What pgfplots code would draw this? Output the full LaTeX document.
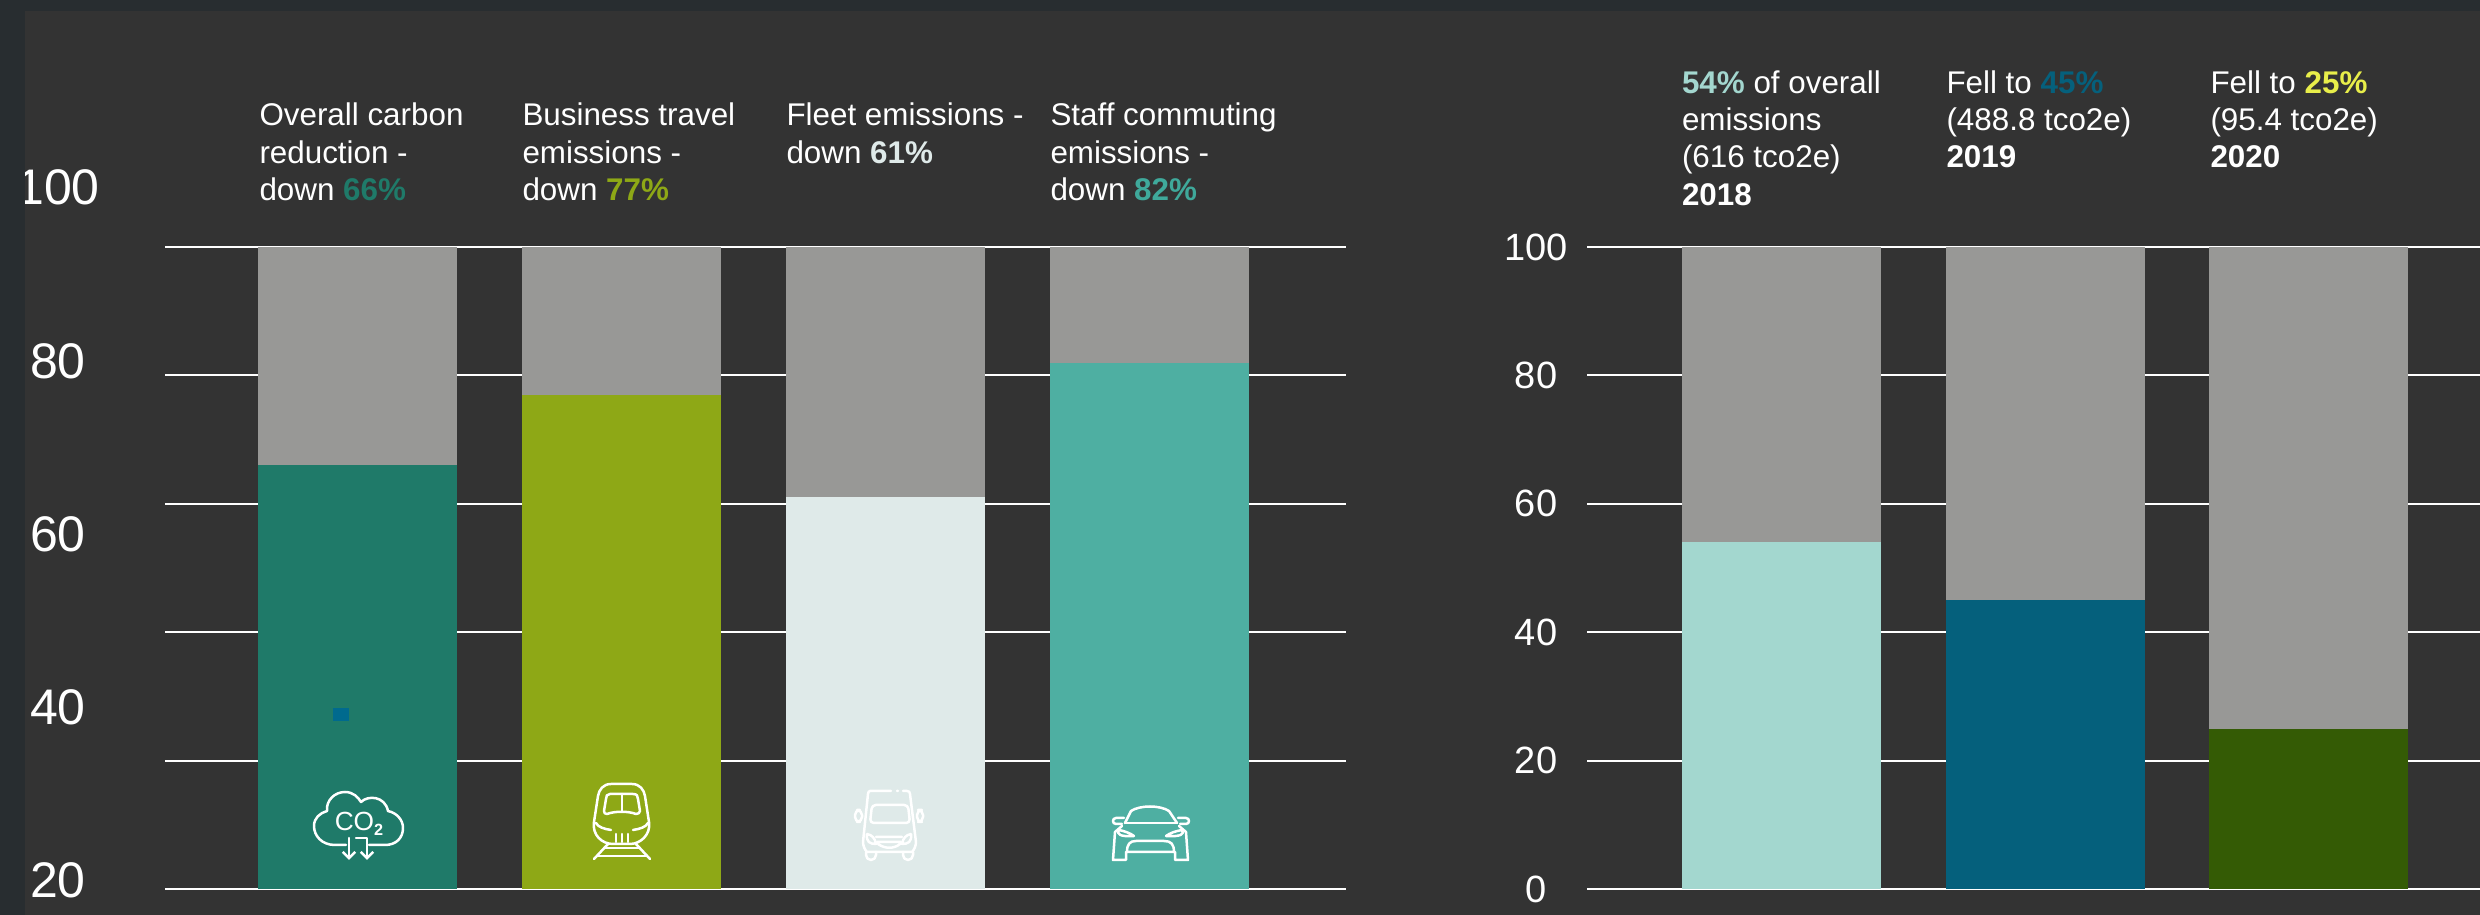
\documentclass[border=0pt]{standalone}
\usepackage{fontspec}
\setmainfont{Liberation Sans}
\usepackage{pgfplots}
\usepackage{pgfplotstable}
\pgfplotsset{compat=1.18}
\usetikzlibrary{arrows.meta}

\definecolor{frameband}{HTML}{282D30}
\definecolor{panel}{HTML}{333333}
\definecolor{restgrey}{HTML}{989896}
\definecolor{cOverall}{HTML}{1F7A69}
\definecolor{cBusiness}{HTML}{8EA816}
\definecolor{cFleet}{HTML}{DFEAE9}
\definecolor{cStaff}{HTML}{4EAFA2}
\definecolor{tStaff}{HTML}{3FA99B}
\definecolor{cY18}{HTML}{A3D7CF}
\definecolor{cY19}{HTML}{05607C}
\definecolor{cY20}{HTML}{345B05}
\definecolor{tY20}{HTML}{E8EE4A}
\definecolor{dotblue}{HTML}{006A8E}

% x  reduced  remainder
\pgfplotstableread{
x low rest
0 66 34
}\tOverall
\pgfplotstableread{
x low rest
1 77 23
}\tBusiness
\pgfplotstableread{
x low rest
2 61 39
}\tFleet
\pgfplotstableread{
x low rest
3 82 18
}\tStaff
\pgfplotstableread{
x low rest
0 54 46
}\tYa
\pgfplotstableread{
x low rest
1 45 55
}\tYb
\pgfplotstableread{
x low rest
2 25 75
}\tYc

\newcommand{\capfont}{\fontsize{12.55}{15}\selectfont}
\newcommand{\capline}[3]{\node[anchor=base west,inner sep=0pt,text=white,font=\capfont] at (#1,#2) {#3};}

\pgfplotsset{
  barpanel/.style={
    scale only axis,
    anchor=south west,
    height=256.8pt,
    ymin=0, ymax=100,
    ytick={0,20,40,60,80,100},
    xtick=\empty,
    yticklabels={},
    ymajorgrids,
    grid style={white,line width=0.8pt},
    axis line style={draw=none},
    major tick length=0pt,
    ybar stacked,
    bar width=79.6pt,
  },
  numfont/.style={/pgf/number format/assume math mode=true},
}

\begin{document}
\begin{tikzpicture}
\useasboundingbox (0,0) rectangle (992pt,-366pt);
\fill[panel] (0,0) rectangle (992pt,-366pt);

% reductions by source
\begin{axis}[barpanel, at={(66pt,-355.6pt)}, width=472.4pt, xmin=-0.729, xmax=3.744]
  \addplot[fill=cOverall,draw=none] table[x=x,y=low]{\tOverall};
  \addplot[fill=restgrey,draw=none] table[x=x,y=rest]{\tOverall};
\end{axis}
\begin{axis}[barpanel, at={(66pt,-355.6pt)}, width=472.4pt, xmin=-0.729, xmax=3.744, ymajorgrids=false]
  \addplot[fill=cBusiness,draw=none] table[x=x,y=low]{\tBusiness};
  \addplot[fill=restgrey,draw=none] table[x=x,y=rest]{\tBusiness};
\end{axis}
\begin{axis}[barpanel, at={(66pt,-355.6pt)}, width=472.4pt, xmin=-0.729, xmax=3.744, ymajorgrids=false]
  \addplot[fill=cFleet,draw=none] table[x=x,y=low]{\tFleet};
  \addplot[fill=restgrey,draw=none] table[x=x,y=rest]{\tFleet};
\end{axis}
\begin{axis}[barpanel, at={(66pt,-355.6pt)}, width=472.4pt, xmin=-0.729, xmax=3.744, ymajorgrids=false]
  \addplot[fill=cStaff,draw=none] table[x=x,y=low]{\tStaff};
  \addplot[fill=restgrey,draw=none] table[x=x,y=rest]{\tStaff};
\end{axis}

% scale printed beside the left panel
\begin{axis}[
  scale only axis, anchor=south west, at={(66pt,-355.2pt)},
  width=472.4pt, height=295.2pt,
  xmin=0, xmax=1, ymin=18.85, ymax=104.06,
  xtick=\empty, ytick={20,40,60,80,100},
  axis line style={draw=none}, major tick length=0pt,
  numfont,
  yticklabel style={anchor=center,xshift=-42.8pt,yshift=-1pt,text=white,font=\fontsize{20}{24}\selectfont},
]
\end{axis}

% share of overall emissions by year
\begin{axis}[barpanel, at={(634.8pt,-355.6pt)}, width=357.2pt, xmin=-0.735, xmax=2.648,
  numfont, yticklabels={0,20,40,60,80,100},
  yticklabel style={anchor=center,xshift=-20.4pt,text=white,font=\fontsize{15.2}{18}\selectfont}]
  \addplot[fill=cY18,draw=none] table[x=x,y=low]{\tYa};
  \addplot[fill=restgrey,draw=none] table[x=x,y=rest]{\tYa};
\end{axis}
\begin{axis}[barpanel, at={(634.8pt,-355.6pt)}, width=357.2pt, xmin=-0.735, xmax=2.648, ymajorgrids=false]
  \addplot[fill=cY19,draw=none] table[x=x,y=low]{\tYb};
  \addplot[fill=restgrey,draw=none] table[x=x,y=rest]{\tYb};
\end{axis}
\begin{axis}[barpanel, at={(634.8pt,-355.6pt)}, width=357.2pt, xmin=-0.735, xmax=2.648, ymajorgrids=false]
  \addplot[fill=cY20,draw=none] table[x=x,y=low]{\tYc};
  \addplot[fill=restgrey,draw=none] table[x=x,y=rest]{\tYc};
\end{axis}

% frame bands sit over the panel edge
\fill[frameband] (0,0) rectangle (992pt,-4.4pt);
\fill[frameband] (0,0) rectangle (10pt,-366pt);

\begin{scope}[x=0.4pt,y=-0.4pt]
  % captions of the left panel
  \capline{259}{126}{Overall carbon}
  \capline{259}{163.5}{reduction -}
  \capline{259}{201}{down {\bfseries\color{cOverall}66\%}}
  \capline{522}{126}{Business travel}
  \capline{522}{163.5}{emissions -}
  \capline{522}{201}{down {\bfseries\color{cBusiness}77\%}}
  \capline{786}{126}{Fleet emissions -}
  \capline{786}{163.5}{down {\bfseries\color{cFleet}61\%}}
  \capline{1050}{126}{Staff commuting}
  \capline{1050}{163.5}{emissions -}
  \capline{1050}{201}{down {\bfseries\color{tStaff}82\%}}
  % captions of the right panel
  \capline{1681.5}{94}{{\bfseries\color{cY18}54\%} of overall}
  \capline{1681.5}{131}{emissions}
  \capline{1681.5}{168}{(616 tco2e)}
  \capline{1681.5}{206}{\bfseries 2018}
  \capline{1946}{94}{Fell to {\bfseries\color{cY19}45\%}}
  \capline{1946}{131}{(488.8 tco2e)}
  \capline{1946}{168}{\bfseries 2019}
  \capline{2210}{94}{Fell to {\bfseries\color{tY20}25\%}}
  \capline{2210}{131}{(95.4 tco2e)}
  \capline{2210}{168}{\bfseries 2020}

  % small square on the first bar
  \fill[dotblue] (333,708) rectangle (349,721);

  \begin{scope}[draw=white,line width=1pt,line cap=round,line join=round]
    % cloud with CO2
    \draw (346,845) -- (335,845) .. controls (322,845) and (314,836) .. (314,826)
      .. controls (314,818) and (320,813) .. (327,811)
      .. controls (326,800) and (335,792) .. (345,792)
      .. controls (353,792) and (358,797) .. (361,802)
      .. controls (368,795) and (385,796) .. (388,811)
      .. controls (397,813) and (403,820) .. (403,828)
      .. controls (403,838) and (396,845) .. (385,845) -- (369,845);
    \node[text=white,inner sep=0pt,font=\fontsize{10.5}{12}\selectfont] at (359,824) {CO\raisebox{-2pt}{\fontsize{6.5}{7}\selectfont\bfseries 2}};
    \draw[-{Straight Barb[length=2.5pt,width=5pt]}] (349,838) -- (349,860);
    \draw[-{Straight Barb[length=2.5pt,width=5pt]}] (356,838) -- (367,838) -- (367,860);
    % train
    \draw (611,784) -- (632,784) .. controls (640,784) and (644,790) .. (645,796)
      -- (649,822) .. controls (651,835) and (640,844) .. (630,844) -- (613,844)
      .. controls (602,844) and (592,835) .. (594,822) -- (598,796)
      .. controls (599,790) and (603,784) .. (611,784) -- cycle;
    \draw (610,794) -- (633,794) .. controls (637,794) and (638,796) .. (638,799)
      -- (640,811) .. controls (640,813) and (638,814) .. (636,814)
      .. controls (628,811) and (615,811) .. (607,814)
      .. controls (605,814) and (604,813) .. (604,811) -- (606,799)
      .. controls (606,796) and (607,794) .. (610,794) -- cycle;
    \draw (622,794) -- (622,811);
    \draw (596,823) .. controls (598,827) and (604,829) .. (611,830);
    \draw (648,823) .. controls (646,827) and (640,829) .. (633,830);
    \draw (616,834) -- (616,842) (622,834) -- (622,842) (628,834) -- (628,842);
    \draw (608,844) -- (594,859) (636,844) -- (650,859);
    \draw (604,848) -- (640,848) (598,856) -- (646,856);
    % van
    \draw (870,791) -- (891,791) (897,791) -- (898,791) (903,791) -- (907,791)
      .. controls (909,791) and (910,792) .. (910,794) -- (916,842)
      .. controls (916,846) and (914,850) .. (912,852) -- (867,852)
      .. controls (865,850) and (863,846) .. (863,842) -- (868,794)
      .. controls (868,792) and (869,791) .. (870,791);
    \draw[rounded corners=1.5pt] (872,805) -- (908,805) -- (910,823) -- (870,823) -- cycle;
    \draw[rounded corners=2pt] (855,810) rectangle (862,822);
    \draw[rounded corners=2pt] (917,810) rectangle (923,822);
    \draw (867,834) .. controls (872,835) and (875,838) .. (876,844) .. controls (870,844) and (866,842) .. (867,834);
    \draw (911,834) .. controls (906,835) and (903,838) .. (902,844) .. controls (908,844) and (912,842) .. (911,834);
    \draw (876,837) -- (902,837) (877,842) -- (901,842) (878,844) .. controls (885,849) and (894,849) .. (900,844);
    \draw[rounded corners=2pt] (866,852) -- (866,860) -- (876,860) -- (876,852);
    \draw[rounded corners=2pt] (903,852) -- (903,860) -- (913,860) -- (913,852);
    % car
    \draw (1125,823) -- (1131,811) .. controls (1140,805) and (1160,805) .. (1169,811) -- (1177,823);
    \draw (1125,823) -- (1177,823);
    \draw (1124,818) -- (1116,818) .. controls (1112,818) and (1112,824) .. (1116,824) -- (1122,824);
    \draw (1178,818) -- (1186,818) .. controls (1190,818) and (1190,824) .. (1186,824) -- (1180,824);
    \draw (1122,826) -- (1115,832) -- (1113,860) -- (1126,860) -- (1126,852) -- (1175,852)
      -- (1175,860) -- (1188,860) -- (1186,832) -- (1179,826);
    \draw (1119,830) .. controls (1116,834) and (1120,837) .. (1134,836) .. controls (1130,833) and (1124,831) .. (1119,830);
    \draw (1182,830) .. controls (1185,834) and (1181,837) .. (1166,836) .. controls (1170,833) and (1176,831) .. (1182,830);
    \draw (1127,852) .. controls (1127,844) and (1130,841) .. (1136,841) -- (1164,841)
      .. controls (1171,841) and (1174,844) .. (1174,852);
  \end{scope}
\end{scope}
\end{tikzpicture}
\end{document}
